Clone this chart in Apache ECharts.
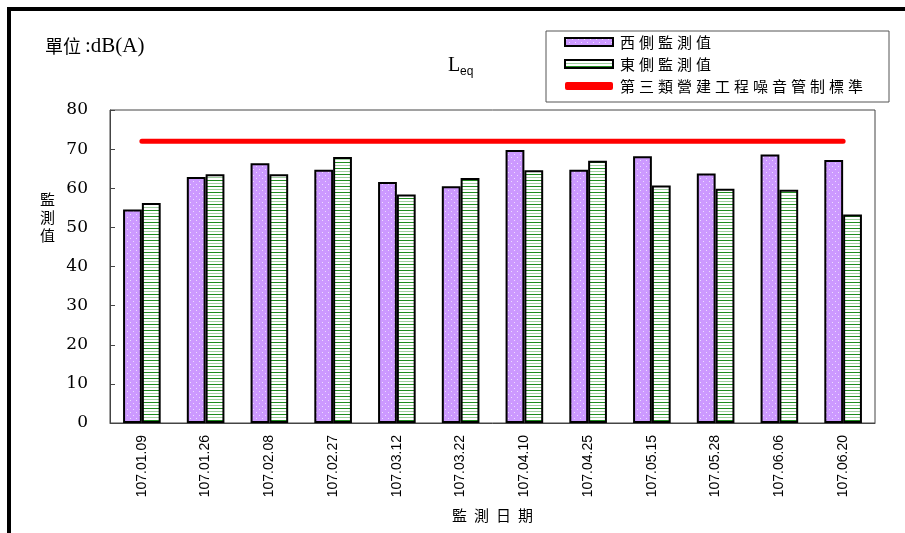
<!DOCTYPE html>
<html>
<head>
<meta charset="utf-8">
<script src="https://cdn.jsdelivr.net/npm/echarts@6/dist/echarts.min.js"></script>
<style>
html,body{margin:0;padding:0;background:#fff;}
#chart{width:905px;height:533px;}
</style>
</head>
<body>
<div id="chart"></div>
<script>
const dates = ['107.01.09','107.01.26','107.02.08','107.02.27','107.03.12','107.03.22','107.04.10','107.04.25','107.05.15','107.05.28','107.06.06','107.06.20'];
const westVals = [54.6, 62.9, 66.4, 64.7, 61.6, 60.5, 69.8, 64.7, 68.2, 63.8, 68.6, 67.2];
const eastVals = [56.2, 63.6, 63.6, 68.0, 58.4, 62.6, 64.6, 67.0, 60.7, 59.9, 59.6, 53.3];
const standardVals = [72, 72, 72, 72, 72, 72, 72, 72, 72, 72, 72, 72];
const seriesNames = ['西側監測值', '東側監測值', '第三類營建工程噪音管制標準'];
const xAxisName = '監測日期';
const yMin = 0, yMax = 80, yStep = 10;

function dotPattern() {
  const c = document.createElement('canvas');
  c.width = 6; c.height = 6;
  const g = c.getContext('2d');
  g.fillStyle = '#cc99ff'; g.fillRect(0, 0, 6, 6);
  g.fillStyle = '#eedcff';
  g.fillRect(1, 1, 1, 1);
  g.fillRect(4, 4, 1, 1);
  return c;
}
function stripePattern() {
  const c = document.createElement('canvas');
  c.width = 4; c.height = 6;
  const g = c.getContext('2d');
  g.fillStyle = '#ffffff'; g.fillRect(0, 0, 4, 6);
  g.fillStyle = '#1e8c1e'; g.fillRect(0, 0, 4, 1);
  g.fillStyle = '#9fd09f'; g.fillRect(0, 3, 4, 1);
  return c;
}
const spaced = (s) => s.split('').map(ch => '{c|' + ch + '}').join('');

const chart = echarts.init(document.getElementById('chart'), null, {renderer: 'canvas'});
const cjk = '"Noto Sans CJK TC", "Noto Sans CJK SC", sans-serif';

chart.setOption({
  animation: false,
  backgroundColor: '#fff',
  grid: {left: 110, right: 30, top: 110, bottom: 110, show: true, borderColor: '#444', borderWidth: 1},
  legend: {
    orient: 'vertical',
    left: 546, top: 31,
    padding: [3, 24, 8, 18],
    itemGap: 6,
    itemWidth: 48, itemHeight: 8,
    borderColor: '#555', borderWidth: 1, backgroundColor: '#fff',
    formatter: spaced,
    textStyle: {
      fontFamily: cjk, fontSize: 15, color: '#000', lineHeight: 16,
      rich: {c: {fontFamily: cjk, fontSize: 15, color: '#000', padding: [0, 2, 0, 2], lineHeight: 16}}
    },
    data: [
      {name: seriesNames[0], icon: 'rect'},
      {name: seriesNames[1], icon: 'rect'},
      {name: seriesNames[2], icon: 'roundRect', itemStyle: {color: '#ff0000', borderWidth: 0}}
    ]
  },
  xAxis: {
    type: 'category',
    data: dates,
    name: spaced(xAxisName),
    nameLocation: 'middle',
    nameGap: 85,
    nameTextStyle: {
      fontFamily: cjk, fontSize: 15, color: '#000',
      rich: {c: {fontFamily: cjk, fontSize: 15, color: '#000', padding: [0, 3.5, 0, 3.5]}}
    },
    axisLine: {lineStyle: {color: '#444', width: 1}},
    axisTick: {inside: true, length: 4, lineStyle: {color: '#444'}},
    axisLabel: {rotate: 90, margin: 12, fontFamily: '"Liberation Sans", Arial, sans-serif', fontSize: 14, color: '#000'}
  },
  yAxis: {
    type: 'value',
    min: yMin, max: yMax, interval: yStep,
    splitLine: {show: false},
    axisLine: {show: true, lineStyle: {color: '#444', width: 1}},
    axisTick: {show: true, inside: true, length: 5, lineStyle: {color: '#444'}},
    axisLabel: {margin: 22, fontFamily: '"DejaVu Serif", serif', fontSize: 17, color: '#000'}
  },
  graphic: [
    {type: 'rect', left: 7, top: 7, shape: {width: 4, height: 526}, style: {fill: '#000'}, silent: true},
    {type: 'rect', left: 7, top: 7, shape: {width: 898, height: 4}, style: {fill: '#000'}, silent: true},
    {type: 'text', left: 45, top: 36, style: {
      text: '{c|單位}{l|:dB(A)}',
      rich: {
        c: {fontFamily: cjk, fontSize: 18, fill: '#000', padding: [0, 4, 0, 0]},
        l: {fontFamily: '"Liberation Serif", "Times New Roman", serif', fontSize: 21, fill: '#000'}
      }
    }},
    {type: 'text', left: 448, top: 56, style: {text: 'L', fontFamily: '"Liberation Serif", serif', fontSize: 20, fill: '#000'}},
    {type: 'text', left: 460, top: 66, style: {text: 'eq', fontFamily: '"Liberation Sans", sans-serif', fontSize: 12, fill: '#000'}},
    {type: 'text', left: 40, top: 190, style: {text: '監\n測\n值', fontFamily: cjk, fontSize: 15, lineHeight: 18, fill: '#000'}}
  ],
  series: [
    {
      name: seriesNames[0], type: 'bar', data: westVals,
      barGap: '0%', barCategoryGap: '41%',
      itemStyle: {color: {image: dotPattern(), repeat: 'repeat'}, borderColor: '#000', borderWidth: 2}
    },
    {
      name: seriesNames[1], type: 'bar', data: eastVals,
      barGap: '0%', barCategoryGap: '41%',
      itemStyle: {color: {image: stripePattern(), repeat: 'repeat'}, borderColor: '#000', borderWidth: 2}
    },
    {
      name: seriesNames[2], type: 'line', data: standardVals,
      symbol: 'none', z: 5,
      itemStyle: {color: '#ff0000'},
      lineStyle: {color: '#ff0000', width: 5, cap: 'round'}
    }
  ]
});
</script>
</body>
</html>
